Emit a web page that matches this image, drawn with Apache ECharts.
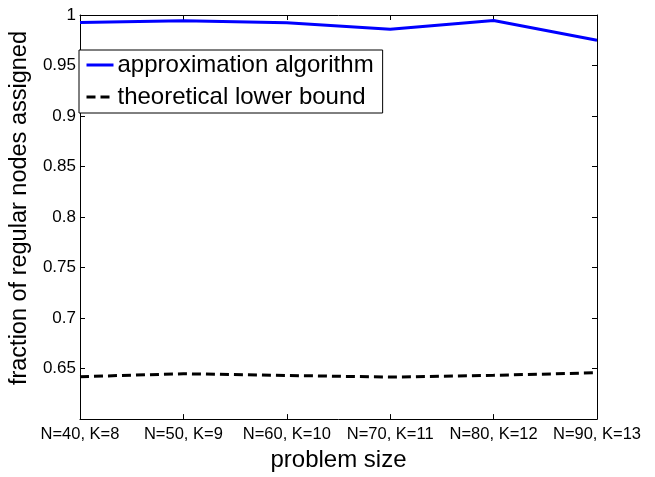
<!DOCTYPE html>
<html>
<head>
<meta charset="utf-8">
<script src="https://cdn.jsdelivr.net/npm/echarts@6/dist/echarts.min.js"></script>
<style>
html,body{margin:0;padding:0;background:#fff;}
#chart{width:655px;height:477px;}
</style>
</head>
<body>
<div id="chart"></div>
<script>
const categories = ['N=40, K=8', 'N=50, K=9', 'N=60, K=10', 'N=70, K=11', 'N=80, K=12', 'N=90, K=13'];
const approxValues = [0.9926, 0.9944, 0.9923, 0.9859, 0.9946, 0.9751];
const lowerBoundValues = [0.642, 0.6449, 0.6432, 0.6416, 0.6433, 0.6459];
const seriesNames = ['approximation algorithm', 'theoretical lower bound'];
const yMin = 0.6, yMax = 1, yStep = 0.05;

const FONT = 'Liberation Sans, Arial, Helvetica, sans-serif';
const chart = echarts.init(document.getElementById('chart'), null, {renderer: 'canvas'});

const fmtY = v => (v < yMin + 0.001 ? '' : String(parseFloat(v.toFixed(2))));

const option = {
  animation: false,
  backgroundColor: '#fff',
  grid: {left: 76, right: 58, top: 15, bottom: 45, show: false},
  legend: {
    orient: 'vertical',
    left: 79,
    top: 50,
    data: seriesNames,
    backgroundColor: '#fff',
    borderColor: '#000',
    borderWidth: 1,
    padding: [1, 9, 2, 6],
    itemGap: 4,
    itemWidth: 27,
    itemHeight: 14,
    itemStyle: {opacity: 0},
    lineStyle: {width: 3},
    textStyle: {fontFamily: FONT, fontSize: 24, color: '#000', lineHeight: 28, padding: [0, 0, 0, -1]}
  },
  xAxis: [{
    type: 'category',
    data: categories,
    boundaryGap: false,
    position: 'bottom',
    axisLine: {show: true, lineStyle: {color: '#000', width: 1}},
    axisTick: {show: true, inside: true, length: 5, interval: 0, lineStyle: {color: '#000'}},
    axisLabel: {fontFamily: FONT, fontSize: 16.5, color: '#000', margin: 7, interval: 0},
    splitLine: {show: false},
    name: 'problem size',
    nameLocation: 'middle',
    nameGap: 23,
    nameTextStyle: {fontFamily: FONT, fontSize: 24, color: '#000'}
  }, {
    type: 'category',
    data: categories,
    boundaryGap: false,
    position: 'top',
    axisLine: {show: true, lineStyle: {color: '#000', width: 1}},
    axisTick: {show: true, inside: true, length: 5, interval: 0, lineStyle: {color: '#000'}},
    axisLabel: {show: false},
    splitLine: {show: false}
  }],
  yAxis: [{
    type: 'value',
    min: yMin, max: yMax, interval: yStep,
    position: 'left',
    axisLine: {show: true, lineStyle: {color: '#000', width: 1}},
    axisTick: {show: true, inside: true, length: 5, lineStyle: {color: '#000'}},
    axisLabel: {fontFamily: FONT, fontSize: 17, color: '#000', margin: 4, formatter: fmtY},
    splitLine: {show: false},
    name: 'fraction of regular nodes assigned',
    nameLocation: 'middle',
    nameGap: 39,
    nameTextStyle: {fontFamily: FONT, fontSize: 23.5, color: '#000', padding: [0, 0, 0, 18]}
  }, {
    type: 'value',
    min: yMin, max: yMax, interval: yStep,
    position: 'right',
    axisLine: {show: true, lineStyle: {color: '#000', width: 1}},
    axisTick: {show: true, inside: true, length: 5, lineStyle: {color: '#000'}},
    axisLabel: {show: false},
    splitLine: {show: false}
  }],
  series: [{
    name: seriesNames[0],
    type: 'line',
    data: approxValues,
    xAxisIndex: 0, yAxisIndex: 0,
    symbol: 'none',
    lineStyle: {color: '#0000ff', width: 3},
    itemStyle: {color: '#0000ff'}
  }, {
    name: seriesNames[1],
    type: 'line',
    data: lowerBoundValues,
    xAxisIndex: 0, yAxisIndex: 0,
    symbol: 'none',
    lineStyle: {color: '#000', width: 3, type: [9, 5]},
    itemStyle: {color: '#000'}
  }]
};
chart.setOption(option);
</script>
</body>
</html>
